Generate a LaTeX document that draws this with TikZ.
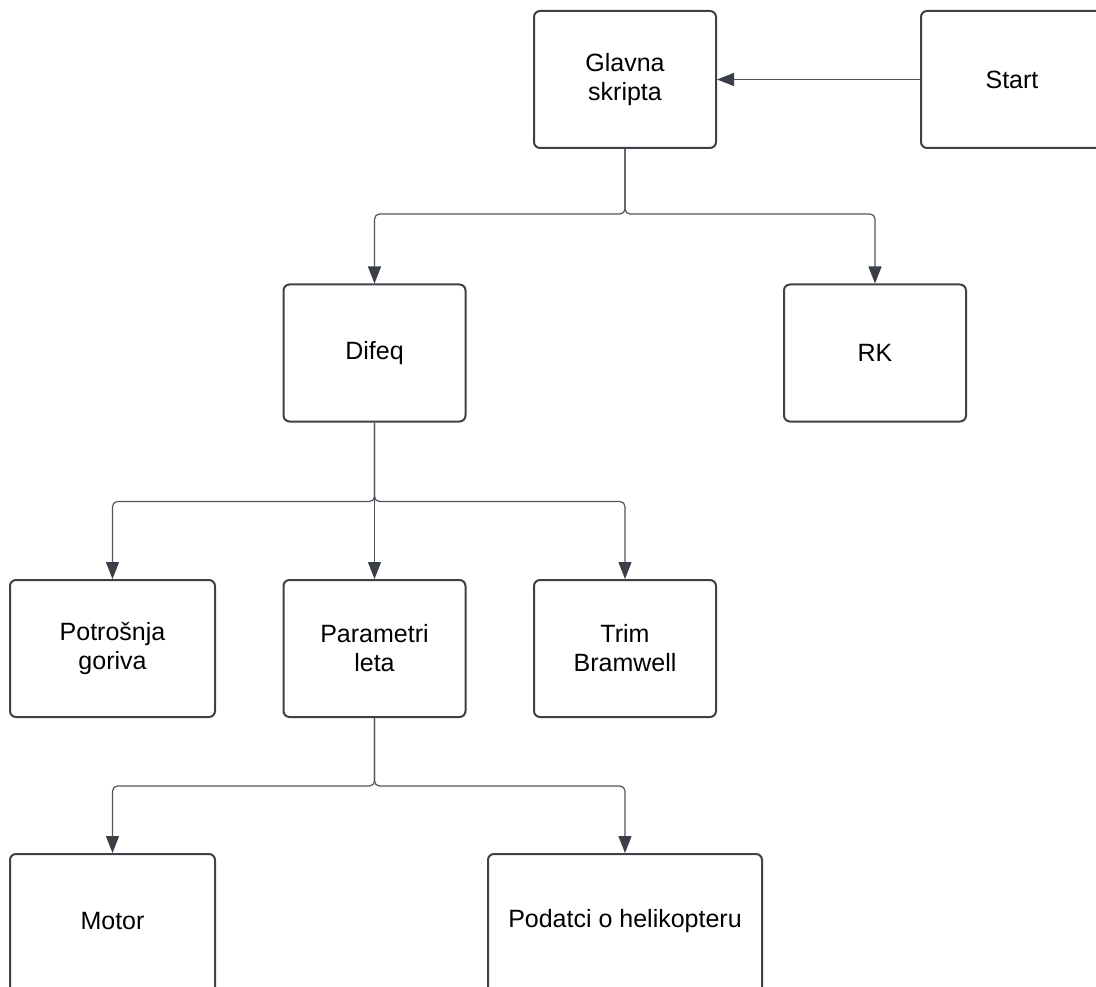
\documentclass[tikz,border=0pt]{standalone}
\usepackage{fontspec}
\setmainfont{Liberation Sans}
\usetikzlibrary{arrows.meta}
\definecolor{boxline}{HTML}{3D4148}
\definecolor{connline}{HTML}{50555D}
\definecolor{tipcol}{HTML}{3A3F47}
\tikzset{
  txt/.style={align=center, font=\fontsize{25}{29}\selectfont, text=black, inner sep=0pt},
  blk/.style={txt, draw=boxline, line width=2pt, rounded corners=6pt, fill=white,
    minimum width=182pt, minimum height=137pt},
  wideblk/.style={blk, minimum width=205pt},
  xwideblk/.style={blk, minimum width=274pt},
  cutblk/.style={minimum height=160pt, anchor=north},
  conn/.style={draw=connline, line width=1.2pt, rounded corners=5pt,
    -{Triangle[length=17pt,width=13pt,fill=tipcol,color=tipcol]}}
}
\begin{document}
\begin{tikzpicture}[x=1pt,y=-1pt]
\useasboundingbox (0,0) rectangle (1096,987);
\clip (0,0) rectangle (1096,987);
\node[blk] (glavna) at (625,79.5) {Glavna\\skripta};
\node[blk] (start) at (1012,79.5) {Start};
\node[blk] (difeq) at (374.5,353) {Difeq};
\node[blk] (rk) at (875,353) {RK};
\node[wideblk] (potros) at (112.5,648.5) {Potrošnja\\goriva};
\node[blk] (param) at (374.5,648.5) {Parametri\\leta};
\node[blk] (trim) at (625,648.5) {Trim\\Bramwell};
\node[wideblk, cutblk] (motor) at (112.5,853) {};
\node[txt] (motortxt) at (112.5,921) {Motor};
\node[xwideblk, cutblk] (podatci) at (625,853) {};
\node[txt] (podatcitxt) at (625,921) {Podatci o helikopteru};

\draw[conn] (start.west) -- (glavna.east);
\draw[conn] (glavna.south) -- ++(0,65) -| (difeq.north);
\draw[conn] (glavna.south) -- ++(0,65) -| (rk.north);
\draw[conn] (difeq.south) -- ++(0,79) -| (potros.north);
\draw[conn] (difeq.south) -- (param.north);
\draw[conn] (difeq.south) -- ++(0,79) -| (trim.north);
\draw[conn] (param.south) -- ++(0,68) -| (motor.north);
\draw[conn] (param.south) -- ++(0,68) -| (podatci.north);
\end{tikzpicture}
\end{document}
